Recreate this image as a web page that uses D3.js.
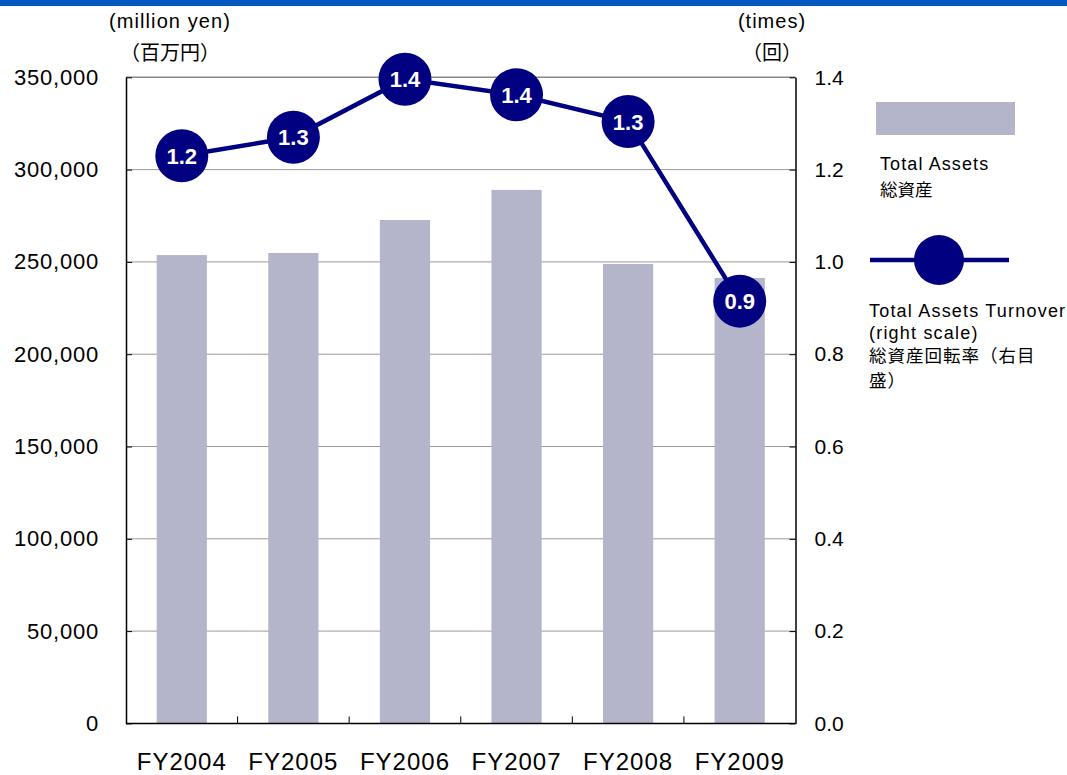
<!DOCTYPE html>
<html>
<head>
<meta charset="utf-8">
<script src="https://cdn.jsdelivr.net/npm/d3@7"></script>
<style>
  html, body { margin: 0; padding: 0; background: #fff; }
  svg { display: block; }
  text { font-family: "Liberation Sans", Arial, sans-serif; fill: #000; }
  text.cjk { font-family: "Noto Sans CJK JP", "Noto Sans CJK SC", sans-serif; }
</style>
</head>
<body>
<svg id="chart" width="1067" height="775"></svg>
<script>
// ---- data ----
const categories = ["FY2004", "FY2005", "FY2006", "FY2007", "FY2008", "FY2009"];
const totalAssets = [253700, 254800, 272700, 289000, 248900, 241300];      // million yen
const turnover = [1.23, 1.27, 1.396, 1.362, 1.304, 0.915];               // times
const leftTicks = [0, 50000, 100000, 150000, 200000, 250000, 300000, 350000];
const rightTicks = [0, 0.2, 0.4, 0.6, 0.8, 1.0, 1.2, 1.4];
const leftUnit = ["(million yen)", "（百万円）"];
const rightUnit = ["(times)", "（回）"];
const legendBarLabel = ["Total Assets", "総資産"];
const legendLineLabel = ["Total Assets Turnover", "(right scale)", "総資産回転率（右目", "盛）"];

// ---- layout ----
const svg = d3.select("#chart");
const L = 126, R = 795.5, T = 77.3, B = 723.4;
const barColor = "#b4b5ca", lineColor = "#000080";

// top blue band
svg.append("rect").attr("x", 0).attr("y", 0).attr("width", 1067).attr("height", 6).attr("fill", "#0558c0");

const x = d3.scaleBand().domain(categories).range([L, R]).paddingInner(0.55).paddingOuter(0.275);
const yL = d3.scaleLinear().domain([0, 350000]).range([B, T]);
const yR = d3.scaleLinear().domain([0, 1.4]).range([B, T]);

// gridlines
svg.append("g").selectAll("line").data(leftTicks.filter(d => d > 0)).join("line")
  .attr("x1", L).attr("x2", R)
  .attr("y1", d => yL(d)).attr("y2", d => yL(d))
  .attr("stroke", d => d === 350000 ? "#888" : "#9a9a9a")
  .attr("stroke-width", d => d === 350000 ? 1.6 : 1);

// bars
svg.append("g").selectAll("rect").data(categories).join("rect")
  .attr("x", d => x(d))
  .attr("width", x.bandwidth())
  .attr("y", (d, i) => yL(totalAssets[i]))
  .attr("height", (d, i) => yL(0) - yL(totalAssets[i]))
  .attr("fill", barColor);

// left axis
const fmtL = d3.format(",");
const gL = svg.append("g").attr("transform", `translate(${L},0)`)
  .call(d3.axisLeft(yL).tickValues(leftTicks).tickFormat(d => d === 0 ? "0" : fmtL(d))
    .tickSizeInner(-6).tickSizeOuter(0).tickPadding(27));
gL.select(".domain").attr("stroke", "#000").attr("stroke-width", 1.5);
gL.selectAll(".tick line").attr("stroke", "#000");
gL.selectAll("text").attr("font-size", 22).attr("letter-spacing", "0.8px").attr("fill", "#000");

// right axis
const gR = svg.append("g").attr("transform", `translate(${R},0)`)
  .call(d3.axisRight(yR).tickValues(rightTicks).tickFormat(d3.format(".1f"))
    .tickSizeInner(-6).tickSizeOuter(0).tickPadding(19));
gR.select(".domain").attr("stroke", "#000").attr("stroke-width", 1.5);
gR.selectAll(".tick line").attr("stroke", "#000");
gR.selectAll("text").attr("font-size", 21).attr("fill", "#000");

// bottom axis
const gB = svg.append("g").attr("transform", `translate(0,${B})`)
  .call(d3.axisBottom(x).tickSize(0).tickPadding(30));
gB.select(".domain").remove();
gB.selectAll("text").attr("font-size", 24).attr("letter-spacing", "1px").attr("fill", "#000");
svg.append("line").attr("x1", L).attr("x2", R).attr("y1", B).attr("y2", B)
  .attr("stroke", "#000").attr("stroke-width", 1.5);
// category boundary ticks (pointing inward)
svg.append("g").selectAll("line").data(categories.slice(1)).join("line")
  .attr("x1", d => x(d) - x.step() * x.paddingInner() / 2)
  .attr("x2", d => x(d) - x.step() * x.paddingInner() / 2)
  .attr("y1", B).attr("y2", B - 7)
  .attr("stroke", "#000").attr("stroke-width", 1);

// unit labels
const cx = d => x(d) + x.bandwidth() / 2;
svg.append("text").attr("x", 170).attr("y", 28).attr("text-anchor", "middle")
  .attr("font-size", 20).attr("letter-spacing", "1.1px").text(leftUnit[0]);
svg.append("text").attr("class", "cjk").attr("x", 170).attr("y", 60).attr("text-anchor", "middle")
  .attr("font-size", 20).text(leftUnit[1]);
svg.append("text").attr("x", 772).attr("y", 28).attr("text-anchor", "middle")
  .attr("font-size", 20).attr("letter-spacing", "1px").text(rightUnit[0]);
svg.append("text").attr("class", "cjk").attr("x", 772).attr("y", 60).attr("text-anchor", "middle")
  .attr("font-size", 20).text(rightUnit[1]);

// line
const line = d3.line().x((d, i) => cx(categories[i])).y(d => yR(d));
svg.append("path").datum(turnover).attr("d", line)
  .attr("fill", "none").attr("stroke", lineColor).attr("stroke-width", 4.5);

const pts = svg.append("g").selectAll("g").data(turnover).join("g")
  .attr("transform", (d, i) => `translate(${cx(categories[i])},${yR(d)})`);
pts.append("circle").attr("r", 26.5).attr("fill", lineColor);
pts.append("text").attr("text-anchor", "middle").attr("dy", "0.36em")
  .attr("font-size", 22).attr("font-weight", "bold").style("fill", "#fff")
  .text(d => d3.format(".1f")(d));

// legend
svg.append("rect").attr("x", 876).attr("y", 102).attr("width", 139).attr("height", 33).attr("fill", barColor);
svg.append("text").attr("x", 880).attr("y", 170).attr("font-size", 18).attr("letter-spacing", "1.1px").text(legendBarLabel[0]);
svg.append("text").attr("class", "cjk").attr("x", 880).attr("y", 196).attr("font-size", 17.5).text(legendBarLabel[1]);

svg.append("line").attr("x1", 870).attr("x2", 1009).attr("y1", 260).attr("y2", 260)
  .attr("stroke", lineColor).attr("stroke-width", 4.5);
svg.append("circle").attr("cx", 939).attr("cy", 260).attr("r", 25).attr("fill", lineColor);
const lgY = [317, 339, 362, 387];
legendLineLabel.forEach((t, i) => {
  const el = svg.append("text").attr("x", 869).attr("y", lgY[i]).text(t);
  if (i < 2) el.attr("font-size", 18).attr("letter-spacing", "1.2px");
  else el.attr("class", "cjk").attr("font-size", 17.5).attr("letter-spacing", "1px");
});
</script>
</body>
</html>
